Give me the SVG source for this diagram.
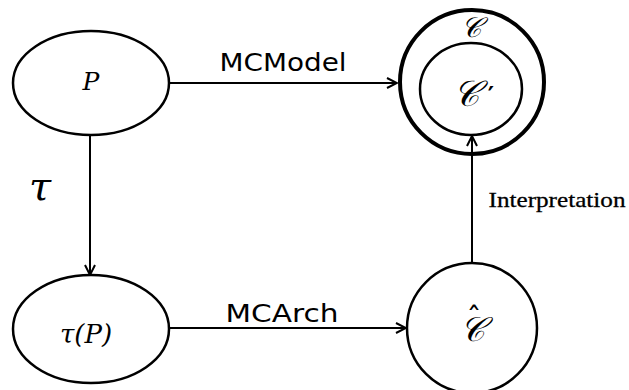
<svg xmlns="http://www.w3.org/2000/svg" width="629" height="390" viewBox="0 0 629 390">
<defs>
<marker id="arr" viewBox="0 0 12 12" refX="11" refY="6" markerWidth="12" markerHeight="12" markerUnits="userSpaceOnUse" orient="auto">
<path d="M1,1 L11,6 L1,11" fill="none" stroke="#000" stroke-width="2"/>
</marker>
</defs>
<style>
.node{fill:#fff;stroke:#000;stroke-width:2.5}
.thick{fill:#fff;stroke:#000;stroke-width:4}
.edge{fill:none;stroke:#000;stroke-width:2;marker-end:url(#arr)}
.math{font-family:"DejaVu Serif","Liberation Serif",serif;font-style:italic;fill:#000;text-anchor:middle}
.mathup{font-family:"DejaVu Sans","Liberation Sans",sans-serif;fill:#000;text-anchor:middle}
.lbl{font-family:"DejaVu Sans","Liberation Sans",sans-serif;fill:#000;text-anchor:middle}
.serif{font-family:"Liberation Serif","DejaVu Serif",serif;fill:#000;text-anchor:middle}
</style>
<rect width="629" height="390" fill="#fff"/>
<g id="node-P">
<ellipse class="node" cx="91" cy="83" rx="78" ry="52"/>
<text class="math" x="91" y="90" font-size="25">P</text>
</g>
<g id="node-tauP">
<ellipse class="node" cx="91" cy="329" rx="78" ry="54"/>
<text class="math" x="86" y="343" font-size="26">τ(P)</text>
</g>
<g id="node-C">
<circle class="thick" cx="472" cy="82" r="72"/>
<text class="math" x="471" y="37" font-size="28">𝒞</text>
<ellipse class="node" cx="471" cy="89" rx="51" ry="46"/>
<text class="math" x="466" y="106" font-size="36">𝒞</text>
<text class="mathup" x="491" y="104" font-size="24" font-weight="bold">′</text>
</g>
<g id="node-Chat">
<circle class="node" cx="472" cy="328" r="65"/>
<text class="math" x="472" y="341" font-size="34">𝒞</text>
<text class="mathup" x="474" y="329" font-size="30">ˆ</text>
</g>
<g id="connectors">
<line class="edge" x1="170" y1="83" x2="397" y2="83"/>
<line class="edge" x1="90" y1="135" x2="90" y2="275"/>
<line class="edge" x1="169" y1="328" x2="406" y2="328"/>
<line class="edge" x1="472" y1="263" x2="472" y2="136"/>
<text class="lbl" x="283" y="71" font-size="24" textLength="127" lengthAdjust="spacingAndGlyphs">MCModel</text>
<text class="lbl" x="282" y="322" font-size="25" textLength="113" lengthAdjust="spacingAndGlyphs">MCArch</text>
<text class="serif" x="557" y="207" font-size="22" stroke="#000" stroke-width="0.3" textLength="137" lengthAdjust="spacingAndGlyphs">Interpretation</text>
<text class="math" x="40" y="200" font-size="40">τ</text>
</g>
</svg>
